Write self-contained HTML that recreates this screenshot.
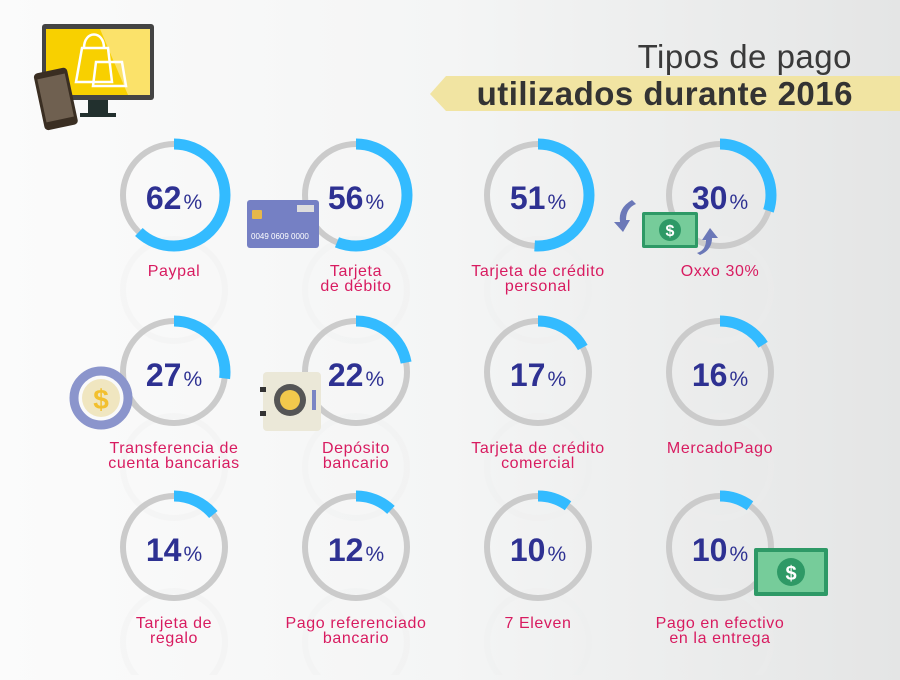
<!DOCTYPE html>
<html><head><meta charset="utf-8"><style>
html,body{margin:0;padding:0}
body{width:900px;height:675px;overflow:hidden;background:linear-gradient(90deg,#fbfbfb 0%,#f4f5f5 50%,#e4e5e5 100%);font-family:"Liberation Sans",sans-serif}
</style></head><body>
<svg width="900" height="675" viewBox="0 0 900 675" xmlns="http://www.w3.org/2000/svg" font-family="Liberation Sans, sans-serif">
<text x="852" y="68" text-anchor="end" font-size="33" fill="#3a3a3a" letter-spacing="0.5">Tipos de pago</text>
<polygon points="430,94 446,76 900,76 900,111 446,111" fill="#f1e4a2"/>
<text x="853" y="105" text-anchor="end" font-size="33" font-weight="bold" fill="#333" letter-spacing="0.5">utilizados durante 2016</text>
<rect x="42" y="24" width="112" height="76" rx="3" fill="#444"/>
<rect x="46" y="29" width="104" height="66" fill="#f8d000"/>
<polygon points="100,29 150,29 150,95 128,95" fill="#fbe26a"/>
<rect x="88" y="100" width="20" height="14" fill="#22302e"/>
<rect x="80" y="113" width="36" height="4" fill="#22302e"/>
<g fill="none" stroke="#fff" stroke-width="2.5"><path d="M76,82 L82,48 L108,48 L112,82 Z"/><path d="M84,48 C84,30 104,30 104,48"/><path d="M93,86 L96,62 L122,62 L126,86 Z"/></g>
<g transform="rotate(-12 55 95)"><rect x="38" y="70" width="34" height="58" rx="4" fill="#3a2e22"/><rect x="41" y="76" width="28" height="44" fill="#6f6050"/></g>
<script>
const data=[[174,195,62,"Paypal"],[356,195,56,"Tarjeta|de débito"],[538,195,51,"Tarjeta de crédito|personal"],[720,195,30,"Oxxo 30%"],
[174,372,27,"Transferencia de|cuenta bancarias"],[356,372,22,"Depósito|bancario"],[538,372,17,"Tarjeta de crédito|comercial"],[720,372,16,"MercadoPago"],
[174,547,14,"Tarjeta de|regalo"],[356,547,12,"Pago referenciado|bancario"],[538,547,10,"7 Eleven"],[720,547,10,"Pago en efectivo|en la entrega"]];
const ns="http://www.w3.org/2000/svg";const svg=document.querySelector("svg");
function el(t,a,txt){const e=document.createElementNS(ns,t);for(const k in a)e.setAttribute(k,a[k]);if(txt)e.textContent=txt;svg.appendChild(e);return e;}
const R=51,C=2*Math.PI*R;
data.forEach(([x,y,p,l])=>{
 el("circle",{cx:x,cy:y+95,r:R,fill:"none",stroke:"#eeeeee","stroke-width":6,opacity:.35});
 el("circle",{cx:x,cy:y,r:R,fill:"none",stroke:"#cbcbcb","stroke-width":6});
 el("circle",{cx:x,cy:y,r:R,fill:"none",stroke:"#33bbff","stroke-width":11,"stroke-dasharray":(C*p/100)+" "+C,transform:`rotate(-90 ${x} ${y})`});
 const t=el("text",{x:x,y:y+14,"text-anchor":"middle",fill:"#2e3192","font-weight":"bold","font-size":32});
 const a=document.createElementNS(ns,"tspan");a.textContent=p;t.appendChild(a);
 const b=document.createElementNS(ns,"tspan");b.textContent="%";b.setAttribute("font-size","21");b.setAttribute("font-weight","normal");b.setAttribute("dx","2");t.appendChild(b);
 l.split("|").forEach((s,i)=>el("text",{x:x,y:y+81+i*15,"text-anchor":"middle",fill:"#d81b60","font-size":16,"letter-spacing":"0.6"},s));
});
</script>
<rect x="247" y="200" width="72" height="48" rx="3" fill="#7580c4"/>
<rect x="297" y="205" width="17" height="7" fill="#ddd"/>
<rect x="252" y="210" width="10" height="9" rx="1" fill="#e6b84a"/>
<text x="251" y="239" font-size="8" fill="#fff">0049 0609 0000</text>
<rect x="642" y="212" width="56" height="36" rx="2" fill="#2e9966"/>
<rect x="645" y="215" width="50" height="30" fill="#76cc9a"/>
<circle cx="670" cy="230" r="11" fill="#2e9966"/><text x="670" y="236" text-anchor="middle" font-size="16" font-weight="bold" fill="#fff">$</text>
<path d="M632,200 Q618,208 620,222 L614,222 L623,232 L630,220 L626,220 Q626,208 636,204Z" fill="#6b78b8"/>
<path d="M700,255 Q712,250 712,238 L718,238 L710,228 L702,240 L706,240 Q706,250 697,253Z" fill="#6b78b8"/>
<rect x="754" y="548" width="74" height="48" rx="2" fill="#2e9966"/>
<rect x="758" y="552" width="66" height="40" fill="#76cc9a"/>
<circle cx="791" cy="572" r="14" fill="#2e9966"/><text x="791" y="580" text-anchor="middle" font-size="20" font-weight="bold" fill="#fff">$</text>
<circle cx="101" cy="398" r="27" fill="none" stroke="#8b95cc" stroke-width="9"/>
<circle cx="101" cy="398" r="19" fill="#f0e6c0"/><text x="101" y="409" text-anchor="middle" font-size="28" font-weight="bold" fill="#f2c02e">$</text>
<rect x="263" y="372" width="58" height="59" rx="4" fill="#ebe8d8"/>
<rect x="260" y="387" width="6" height="5" fill="#333"/><rect x="260" y="411" width="6" height="5" fill="#333"/>
<circle cx="290" cy="400" r="16" fill="#555"/><circle cx="290" cy="400" r="10" fill="#f2c94c"/>
<rect x="312" y="390" width="4" height="20" fill="#7a85c4"/>
</svg>
</body></html>
